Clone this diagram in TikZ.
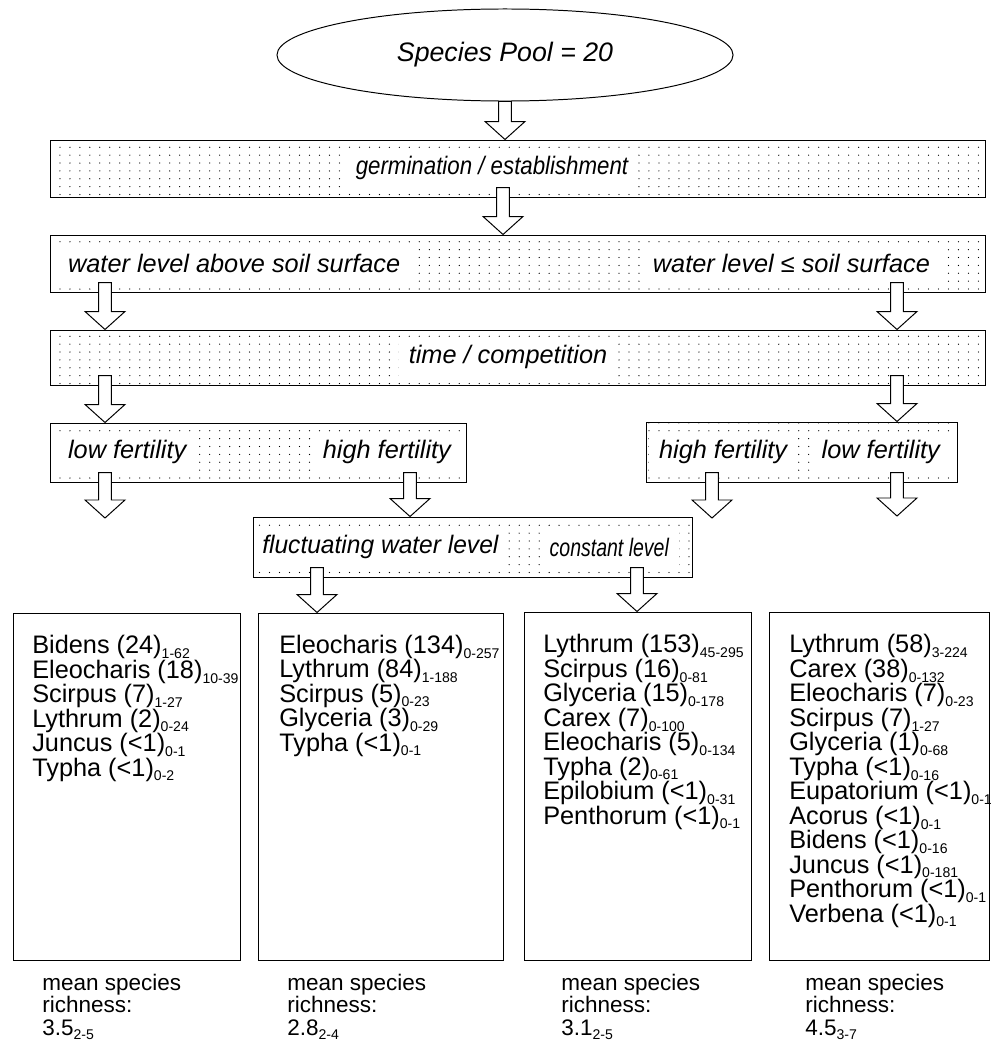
\documentclass[tikz,border=0pt]{standalone}
\usepackage{fontspec}
\setmainfont{Liberation Sans}
\usetikzlibrary{positioning, calc, shapes.geometric, fit, patterns.meta}

\tikzdeclarepattern{
  name=sparsedots,
  type=uncolored,
  bottom left={(-0.6pt,-0.6pt)},
  top right={(0.6pt,0.6pt)},
  tile size={(7.1pt,5.6pt)},
  code={\pgfpathcircle{\pgfpointorigin}{0.45pt}\pgfusepath{fill}}
}

\newcommand{\rngsub}[1]{\raisebox{-3.5pt}{\fontsize{10}{10}\selectfont #1}}
\newcommand{\narrow}[2]{\scalebox{#1}[1]{#2}}

\begin{document}
\begin{tikzpicture}[
        x=0.025cm, y=-0.025cm,
        poolnode/.style={ellipse, draw, line width=0.7pt, minimum width=11.4cm, minimum height=2.3cm, font=\fontsize{19}{22}\selectfont\itshape},
        dotbox/.style={rectangle, draw, line width=0.7pt, pattern=sparsedots, inner sep=0pt},
        boxtext/.style={fill=white, inner xsep=7pt, inner ysep=0pt, minimum height=1cm, font=\fontsize{18}{21}\selectfont\itshape},
        listbox/.style={rectangle, draw, line width=0.7pt, inner sep=0pt},
        % base = baseline of the last line
        listtext/.style={anchor=base west, align=left, inner sep=0pt, font=\fontsize{18}{17.4}\selectfont},
        footer/.style={anchor=base west, align=left, inner sep=0pt, font=\fontsize{16}{16}\selectfont},
        fatarrow/.style={draw, fill=white, line width=0.7pt,
            to path={let \p1=(\tikztostart), \p2=(\tikztotarget) in
                (\x1-4.6pt,\y1+#1) -- (\x1+4.6pt,\y1+#1) -- (\x1+4.6pt,\y2+12.8pt) -- (\x1+14.2pt,\y2+12.8pt)
                -- (\x1,\y2) -- (\x1-14.2pt,\y2+12.8pt) -- (\x1-4.6pt,\y2+12.8pt) -- cycle}},
        fatarrow/.default=7.1pt,
    ]
    \useasboundingbox (0,0) rectangle (992,1045);

    % ===== Species pool =====
    \node[poolnode] (pool) at (505,55) {Species Pool = 20};

    % ===== Filter boxes =====
    \node[dotbox, fit={(50,140) (985,197)}] (germ) {};
    \node[boxtext] (germtxt) at (492,168) {\narrow{0.88}{germination / establishment}};

    \node[dotbox, fit={(50,235) (985,292)}] (water) {};
    \node[boxtext, anchor=west] (waterup) at (58,263) {water level above soil surface};
    \node[boxtext, anchor=east] (waterlow) at (940,263) {water level ≤ soil surface};

    \node[dotbox, fit={(50,330) (985,385)}] (time) {};
    \node[boxtext] (timetxt) at (508,357) {time / competition};

    \node[dotbox, fit={(50,423) (466,482)}] (fertL) {};
    \node[boxtext, anchor=west] (fertLlow) at (58,452) {low fertility};
    \node[boxtext, anchor=east] (fertLhigh) at (461,452) {high fertility};

    \node[dotbox, fit={(646,422) (957,482)}] (fertR) {};
    \node[boxtext, anchor=west] (fertRhigh) at (649,452) {high fertility};
    \node[boxtext, anchor=east] (fertRlow) at (950,452) {low fertility};

    \node[dotbox, fit={(253,517) (692,577)}] (flux) {};
    \node[boxtext, anchor=west, inner xsep=5pt] (fluxtxt) at (255,547) {\narrow{0.97}{fluctuating water level}};
    \node[boxtext, anchor=east] (consttxt) at (679,547) {\narrow{0.77}{constant level}};

    % ===== Species lists =====
    \node[listbox, fit={(13,613) (240,960)}] (listA) {};
    \node[listbox, fit={(258,613) (503,960)}] (listB) {};
    \node[listbox, fit={(524,612) (751,960)}] (listC) {};
    \node[listbox, fit={(769,612) (989,960)}] (listD) {};

    \node[listtext] (spA) at (32,776) {Bidens (24)\rngsub{1-62}\\Eleocharis (18)\rngsub{10-39}\\Scirpus (7)\rngsub{1-27}\\Lythrum (2)\rngsub{0-24}\\Juncus (<1)\rngsub{0-1}\\Typha (<1)\rngsub{0-2}};
    \node[listtext] (spB) at (279,751) {Eleocharis (134)\rngsub{0-257}\\Lythrum (84)\rngsub{1-188}\\Scirpus (5)\rngsub{0-23}\\Glyceria (3)\rngsub{0-29}\\Typha (<1)\rngsub{0-1}};
    \node[listtext] (spC) at (543,824) {Lythrum (153)\rngsub{45-295}\\Scirpus (16)\rngsub{0-81}\\Glyceria (15)\rngsub{0-178}\\Carex (7)\rngsub{0-100}\\Eleocharis (5)\rngsub{0-134}\\Typha (2)\rngsub{0-61}\\Epilobium (<1)\rngsub{0-31}\\Penthorum (<1)\rngsub{0-1}};
    \node[listtext] (spD) at (789,922) {Lythrum (58)\rngsub{3-224}\\Carex (38)\rngsub{0-132}\\Eleocharis (7)\rngsub{0-23}\\Scirpus (7)\rngsub{1-27}\\Glyceria (1)\rngsub{0-68}\\Typha (<1)\rngsub{0-16}\\Eupatorium (<1)\rngsub{0-14}\\Acorus (<1)\rngsub{0-1}\\Bidens (<1)\rngsub{0-16}\\Juncus (<1)\rngsub{0-181}\\Penthorum (<1)\rngsub{0-1}\\Verbena (<1)\rngsub{0-1}};

    % ===== Richness =====
    \node[footer] (richA) at (42,1035) {mean species\\richness:\\3.5\rngsub{2-5}};
    \node[footer] (richB) at (287,1035) {mean species\\richness:\\2.8\rngsub{2-4}};
    \node[footer] (richC) at (561,1035) {mean species\\richness:\\3.1\rngsub{2-5}};
    \node[footer] (richD) at (805,1035) {mean species\\richness:\\4.5\rngsub{3-7}};

    % ===== Arrows =====
    \coordinate (colG) at (503,0);
    \coordinate (colW) at (105,0);
    \coordinate (colE) at (897,0);
    \coordinate (colHL) at (410,0);
    \coordinate (colHR) at (712,0);
    \coordinate (colFL) at (317,0);
    \coordinate (colFR) at (637,0);
    \coordinate (endLL) at (105,518);
    \coordinate (endHR) at (712,518);
    \coordinate (endLR) at (897,516);

    \draw[fatarrow=0pt] (pool.south) to (germ.north);
    \draw[fatarrow] (germ.south -| colG) to (water.north);
    \draw[fatarrow] (water.south -| colW) to (time.north);
    \draw[fatarrow] (water.south -| colE) to (time.north);
    \draw[fatarrow] (time.south -| colW) to (fertL.north);
    \draw[fatarrow] (time.south -| colE) to (fertR.north);
    \draw[fatarrow] (fertL.south -| colW) to (endLL);
    \draw[fatarrow] (fertL.south -| colHL) to (flux.north);
    \draw[fatarrow] (fertR.south -| colHR) to (endHR);
    \draw[fatarrow] (fertR.south -| colE) to (endLR);
    \draw[fatarrow] (flux.south -| colFL) to (listB.north);
    \draw[fatarrow] (flux.south -| colFR) to (listC.north);

\end{tikzpicture}
\end{document}
